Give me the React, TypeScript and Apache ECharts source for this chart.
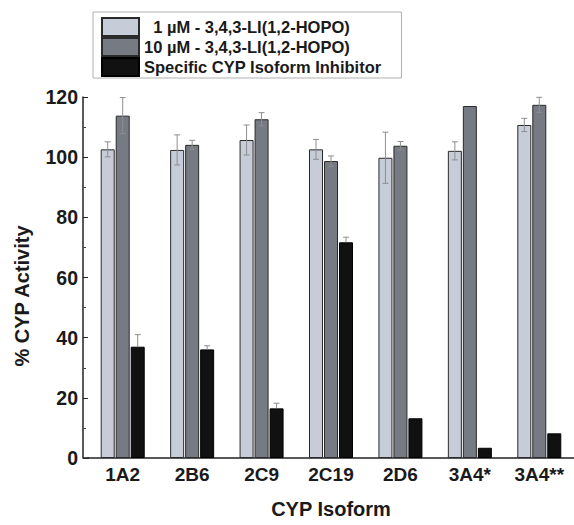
import React, { useEffect, useRef } from "react";
import * as echarts from "echarts";

const categories = ["1A2", "2B6", "2C9", "2C19", "2D6", "3A4*", "3A4**"];
const seriesNames = [
  "\u00A0\u00A01 \u00B5M - 3,4,3-LI(1,2-HOPO)",
  "10 \u00B5M - 3,4,3-LI(1,2-HOPO)",
  "Specific CYP Isoform Inhibitor",
];
const lowDose = [102.6, 102.4, 105.7, 102.6, 99.8, 102.1, 110.7];
const lowDoseErr = [2.5, 5, 5, 3.3, 8.5, 3, 2.2];
const highDose = [113.8, 104.1, 112.6, 98.7, 103.8, 117.0, 117.4];
const highDoseErr = [6, 1.5, 2.2, 1.7, 1.4, 0, 2.5];
const inhibitor = [37.0, 36.1, 16.5, 71.7, 13.2, 3.4, 8.2];
const inhibitorErr = [4, 1.2, 1.7, 1.7, 0, 0, 0];
const yTicks = { min: 0, max: 120, interval: 20 };
const yAxisTitle = "% CYP Activity";
const xAxisTitle = "CYP Isoform";

const FONT = "'Liberation Sans', Arial, sans-serif";
const BAR_W = 14;
const BAR_GAP_PX = 1;
const colors = ["#c6cdd9", "#767a83", "#111111"];

function errSeries(vals: number[], errs: number[], k: number, lower: boolean) {
  return {
    type: "custom",
    name: "err" + k,
    z: 5,
    silent: true,
    data: vals.map((v, i) => [i, v, errs[i]]),
    renderItem: (params: any, api: any) => {
      const e = api.value(2);
      if (!e) return null;
      const v = api.value(1);
      const c = api.coord([api.value(0), v]);
      const top = api.coord([api.value(0), v + e]);
      const bot = lower ? api.coord([api.value(0), v - e]) : c;
      const x = c[0] + (k - 1) * (BAR_W + BAR_GAP_PX);
      const cap = 3;
      const st = { stroke: "#8e8e8e", lineWidth: 1 };
      const children: any[] = [
        { type: "line", shape: { x1: x, y1: top[1], x2: x, y2: bot[1] }, style: st },
        { type: "line", shape: { x1: x - cap, y1: top[1], x2: x + cap, y2: top[1] }, style: st },
      ];
      if (lower)
        children.push({ type: "line", shape: { x1: x - cap, y1: bot[1], x2: x + cap, y2: bot[1] }, style: st });
      return { type: "group", children };
    },
  };
}

export default function App() {
  const ref = useRef<HTMLDivElement>(null);
  useEffect(() => {
    const chart = echarts.init(ref.current!, null, { renderer: "svg" });
    const barBase = {
      type: "bar",
      barWidth: BAR_W,
      barGap: (BAR_GAP_PX / BAR_W) * 100 + "%",
    };
    chart.setOption({
      animation: false,
      backgroundColor: "#ffffff",
      textStyle: { fontFamily: FONT },
      legend: {
        orient: "vertical",
        left: 93,
        top: 12,
        padding: [5, 20, 1, 8],
        itemWidth: 37,
        itemHeight: 18,
        itemGap: 0,
        borderColor: "#b0b0b0",
        borderWidth: 1,
        icon: "rect",
        data: seriesNames,
        textStyle: {
          fontFamily: FONT,
          fontSize: 16.5,
          lineHeight: 18,
          fontWeight: "bold",
          color: "#1a1a1a",
        },
      },
      grid: { left: 88, right: -4, top: 97, bottom: 67, containLabel: false },
      xAxis: {
        type: "category",
        data: categories,
        name: xAxisTitle,
        nameLocation: "middle",
        nameGap: 41,
        nameTextStyle: { fontFamily: FONT, fontSize: 20, fontWeight: "bold", color: "#1a1a1a" },
        axisLine: { lineStyle: { color: "#222", width: 1.5 } },
        axisTick: { alignWithLabel: true, length: 5, lineStyle: { color: "#222" } },
        axisLabel: { margin: 7, fontFamily: FONT, fontSize: 19, fontWeight: "bold", color: "#1a1a1a" },
        splitLine: { show: false },
      },
      yAxis: {
        type: "value",
        min: yTicks.min,
        max: yTicks.max,
        interval: yTicks.interval,
        offset: 5,
        axisLine: { show: true, lineStyle: { color: "#222", width: 1.5 } },
        axisTick: { show: true, inside: true, length: 5, lineStyle: { color: "#222" } },
        minorTick: { show: true, splitNumber: 2, length: 3, lineStyle: { color: "#444" } },
        axisLabel: { margin: 5, fontFamily: FONT, fontSize: 19.5, fontWeight: "bold", color: "#1a1a1a" },
        splitLine: { show: false },
      },
      graphic: [
        {
          type: "line",
          shape: { x1: 83, y1: 458, x2: 89, y2: 458 },
          style: { stroke: "#222", lineWidth: 1.5 },
        },
        {
          type: "text",
          x: 22,
          y: 296,
          rotation: Math.PI / 2,
          style: {
            text: yAxisTitle,
            align: "center",
            verticalAlign: "middle",
            fontFamily: FONT,
            fontSize: 20,
            fontWeight: "bold",
            fill: "#1a1a1a",
          },
        },
      ],
      series: [
        {
          ...barBase,
          name: seriesNames[0],
          data: lowDose,
          itemStyle: { color: colors[0], borderColor: "#2a2a2a", borderWidth: 1 },
        },
        {
          ...barBase,
          name: seriesNames[1],
          data: highDose,
          itemStyle: { color: colors[1], borderColor: "#2a2a2a", borderWidth: 1 },
        },
        {
          ...barBase,
          name: seriesNames[2],
          data: inhibitor,
          itemStyle: { color: colors[2], borderColor: "#000", borderWidth: 1 },
        },
        errSeries(lowDose, lowDoseErr, 0, true),
        errSeries(highDose, highDoseErr, 1, true),
        errSeries(inhibitor, inhibitorErr, 2, false),
      ],
    });
    return () => chart.dispose();
  }, []);
  return (
    <div
      ref={ref}
      style={{ position: "fixed", left: 0, top: 0, width: 574, height: 525, background: "#fff" }}
    />
  );
}
